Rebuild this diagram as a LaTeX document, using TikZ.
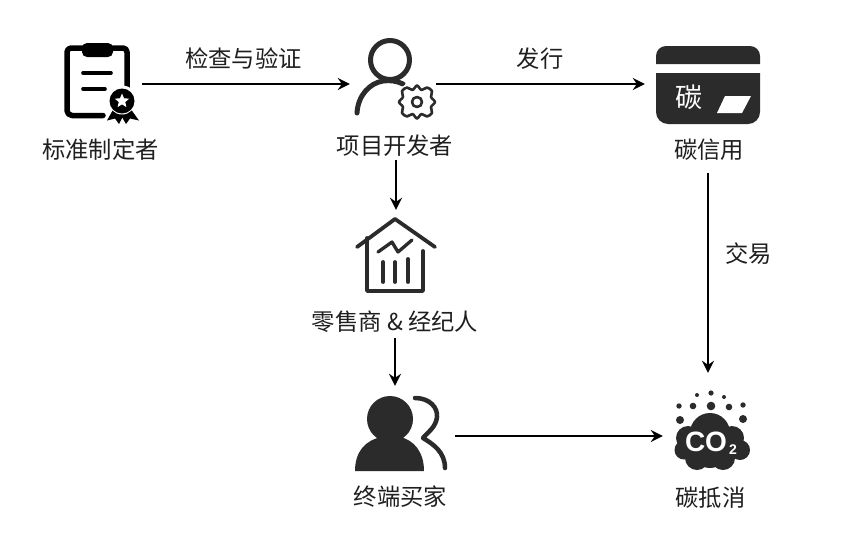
\documentclass[tikz,border=0pt]{standalone}
\usepackage{fontspec}
\setmainfont{Noto Sans CJK SC}
\newfontfamily\latinbold{Liberation Sans Bold}
\usetikzlibrary{arrows.meta,shapes.geometric}
\definecolor{ink}{HTML}{2B2B2B}
\definecolor{txt}{HTML}{1F1F1F}
\tikzset{
  x=1pt,y=-1pt,
  lbl/.style={font=\fontsize{23.3}{23.3}\selectfont,text=txt,inner sep=0pt,minimum height=28pt,anchor=center},
  conn/.style={draw=black,line width=2.3pt,-{Stealth[length=12pt,width=12pt,inset=4pt]}},
  stk/.style={draw=ink,line cap=round,line join=round,fill=none},
}
\begin{document}
\begin{tikzpicture}
\useasboundingbox[fill=white] (0,0) rectangle (864,533);

% ---- standards icon
\node[inner sep=0pt,minimum width=80pt,minimum height=80pt] (std) at (102,84) {};
\draw[stk,draw=black,line width=5.5pt] (103,115.5) -- (72,115.5) arc[start angle=90,end angle=180,radius=5] -- (67,52) arc[start angle=180,end angle=270,radius=4] -- (123,48) arc[start angle=-90,end angle=0,radius=4] -- (127,88);
\fill[black,rounded corners=5pt] (82,43) rectangle (113,57);
\draw[stk,draw=black,line width=3.6pt] (83,73) -- (111,73) (83,89) -- (105,89);
\fill[white] (122,101) circle[radius=15.5];
\fill[black] (114,108) -- (107,120.5) -- (115,118.5) -- (119,124) -- (125,112) -- cycle;
\fill[black] (130,108) -- (139,120.5) -- (130,118.5) -- (126,124) -- (119,112) -- cycle;
\fill[white] (122,101) circle[radius=13.5];
\fill[black] (122,101) circle[radius=12.5];
\node[star,star points=5,star point ratio=2.2,fill=white,inner sep=0pt,minimum size=15pt] (stdstar) at (122,101) {};

% ---- developer icon
\node[inner sep=0pt,minimum width=86pt,minimum height=80pt] (dev) at (393,84) {};
\draw[stk,line width=5pt] (390,60) circle[radius=19.5];
\draw[stk,line width=5pt] (357,113) .. controls (358,95) and (370,83) .. (383,81) .. controls (390,80) and (397,81) .. (403,84);
\fill[white] (417,102) circle[radius=21];
\draw[stk,line width=2.6pt]
  plot[smooth cycle,tension=0.5] coordinates {
   (417,85.5) (421.5,90) (427,87.5) (432,91) (431,97) (435,102) (431,107) (432,113) (427,116.5) (421.5,114) (417,118.5) (412.5,114) (407,116.5) (402,113) (403,107) (399,102) (403,97) (402,91) (407,87.5) (412.5,90)};
\draw[stk,line width=2.6pt] (417,102) circle[radius=5];

% ---- credit icon
\node[inner sep=0pt,minimum width=115pt,minimum height=78pt] (cred) at (702.5,84) {};
\fill[ink] (656,64) -- (656,56) arc[start angle=180,end angle=270,radius=10] -- (750,46) arc[start angle=-90,end angle=0,radius=10] -- (760,64) -- cycle;
\fill[ink] (656,73) -- (760,73) -- (760,112) arc[start angle=0,end angle=90,radius=12] -- (668,124) arc[start angle=90,end angle=180,radius=12] -- cycle;
\node[font=\fontsize{27}{27}\selectfont,text=white,inner sep=0pt] (credglyph) at (689,97) {碳};
\fill[white] (725,96) -- (751,96) -- (742,113) -- (717,113) -- cycle;

% ---- retail icon
\node[inner sep=0pt,minimum width=80pt,minimum height=80pt] (ret) at (396,250) {};
\draw[stk,line width=3.8pt] (357,247) -- (395,219) -- (435,247);
\draw[stk,line width=3.8pt] (367,238) -- (367,291) -- (423,291) -- (423,251);
\draw[stk,line width=3.3pt] (378,252) -- (392,242) -- (398,252) -- (412,240);
\draw[stk,line width=3.8pt] (383,262) -- (383,282) (395,262) -- (395,282) (408,259) -- (408,282);

% ---- buyer icon
\node[inner sep=0pt,minimum width=100pt,minimum height=100pt] (buy) at (405,436) {};
\fill[ink] (390,419) circle[radius=23];
\fill[ink] (355,471) .. controls (355,452) and (365,440) .. (382,437) -- (400,437) .. controls (414,440) and (424,452) .. (424,471) -- cycle;
\draw[stk,line width=4.5pt] (415,398) .. controls (430,398) and (438,408) .. (437,417) .. controls (436,427) and (428,432) .. (423,438) .. controls (433,444) and (445,452) .. (445,468);

% ---- offset icon
\node[inner sep=0pt,minimum width=90pt,minimum height=126pt] (off) at (708,436) {};
\fill[ink] (710,433) circle[radius=20];
\fill[ink] (688,438) circle[radius=12];
\fill[ink] (732,438) circle[radius=12];
\fill[ink] (684,450) circle[radius=9.5];
\fill[ink] (740,450) circle[radius=10];
\fill[ink] (697,458) circle[radius=12];
\fill[ink] (723,458) circle[radius=12];
\fill[ink] (710,450) circle[radius=18];
\foreach \cx/\cy/\cr in {697/395/2,711/393/2.6,724/397/2,679/406/2.7,693/406/3.3,711/406/4.3,729/407/3.3,743/405/2.7,680/420/4,743/419/4}
  \fill[ink] (\cx,\cy) circle[radius=\cr];
\node[font=\fontsize{28}{28}\selectfont\latinbold,text=white,inner sep=0pt] (co) at (706,442) {CO};
\node[font=\fontsize{14}{14}\selectfont\latinbold,text=white,inner sep=0pt] (cotwo) at (733,450) {2};

% ---- labels
\node[lbl] (l1) at (100.5,150) {标准制定者};
\node[lbl] (l2) at (395,146) {项目开发者};
\node[lbl] (l3) at (709,150) {碳信用};
\node[lbl] (l4) at (395,322) {零售商 \& 经纪人};
\node[lbl] (l5) at (400.5,497) {终端买家};
\node[lbl] (l6) at (710.5,498) {碳抵消};
\node[lbl] (e1) at (243.5,59) {检查与验证};
\node[lbl] (e2) at (540,59) {发行};
\node[lbl] (e3) at (748.5,254) {交易};

% ---- connectors
\draw[conn] (std.east) -- (dev.west);
\draw[conn] (dev.east) -- (cred.west);
\draw[conn] (l2.south -| ret.north) -- (ret.north);
\draw[conn] (l4.south) ++(0,2) -- (buy.north -| l4.south);
\draw[conn] (l3.south -| off.north) ++(0,9) -- (off.north);
\draw[conn] (buy.east) -- (off.west);
\end{tikzpicture}
\end{document}
